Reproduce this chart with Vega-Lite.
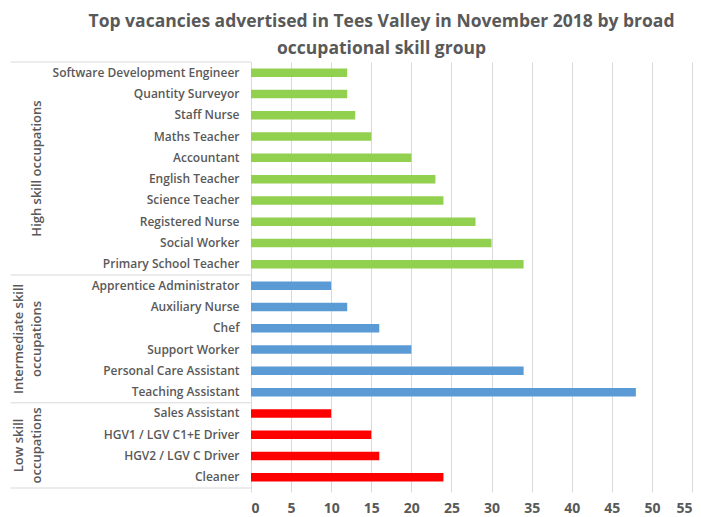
{
  "$schema": "https://vega.github.io/schema/vega-lite/v6.json",
  "autosize": "none",
  "width": 441,
  "height": 426,
  "padding": {"left": 251, "top": 62, "right": 9, "bottom": 29},
  "background": "white",
  "title": {
    "text": ["Top vacancies advertised in Tees Valley in November 2018 by broad", "occupational skill group"],
    "font": "Open Sans",
    "fontSize": 17.5,
    "fontWeight": "bold",
    "color": "#595959",
    "anchor": "middle",
    "dx": -90,
    "offset": 4,
    "lineHeight": 27
  },
  "config": {
    "view": {"stroke": null},
    "font": "Open Sans"
  },
  "datasets": {
    "jobs": [
      {"occupation": "Software Development Engineer", "vacancies": 12, "group": "High"},
      {"occupation": "Quantity Surveyor", "vacancies": 12, "group": "High"},
      {"occupation": "Staff Nurse", "vacancies": 13, "group": "High"},
      {"occupation": "Maths Teacher", "vacancies": 15, "group": "High"},
      {"occupation": "Accountant", "vacancies": 20, "group": "High"},
      {"occupation": "English Teacher", "vacancies": 23, "group": "High"},
      {"occupation": "Science Teacher", "vacancies": 24, "group": "High"},
      {"occupation": "Registered Nurse", "vacancies": 28, "group": "High"},
      {"occupation": "Social Worker", "vacancies": 30, "group": "High"},
      {"occupation": "Primary School Teacher", "vacancies": 34, "group": "High"},
      {"occupation": "Apprentice Administrator", "vacancies": 10, "group": "Intermediate"},
      {"occupation": "Auxiliary Nurse", "vacancies": 12, "group": "Intermediate"},
      {"occupation": "Chef", "vacancies": 16, "group": "Intermediate"},
      {"occupation": "Support Worker", "vacancies": 20, "group": "Intermediate"},
      {"occupation": "Personal Care Assistant", "vacancies": 34, "group": "Intermediate"},
      {"occupation": "Teaching Assistant", "vacancies": 48, "group": "Intermediate"},
      {"occupation": "Sales Assistant", "vacancies": 10, "group": "Low"},
      {"occupation": "HGV1 / LGV C1+E Driver", "vacancies": 15, "group": "Low"},
      {"occupation": "HGV2 / LGV C Driver", "vacancies": 16, "group": "Low"},
      {"occupation": "Cleaner", "vacancies": 24, "group": "Low"}
    ],
    "singleLabels": [
      {"label": ["High skill occupations"], "anchor": "Accountant"}
    ],
    "doubleLabels": [
      {"label": ["Intermediate skill", "occupations"], "anchor": "Chef"},
      {"label": ["Low skill", "occupations"], "anchor": "HGV1 / LGV C1+E Driver"}
    ],
    "bottoms": [
      {"occupation": "Primary School Teacher"},
      {"occupation": "Teaching Assistant"},
      {"occupation": "Cleaner"}
    ],
    "tops": [
      {"occupation": "Software Development Engineer"}
    ]
  },
  "layer": [
    {
      "data": {"name": "jobs"},
      "mark": {"type": "bar"},
      "encoding": {
        "y": {
          "field": "occupation",
          "type": "nominal",
          "sort": null,
          "scale": {"paddingInner": 0.6, "paddingOuter": 0.3},
          "axis": {
            "title": null,
            "ticks": false,
            "domain": true,
            "domainColor": "#d9d9d9",
            "labelFont": "Open Sans",
            "labelFontSize": 12,
            "labelFontWeight": 600,
            "labelColor": "#595959",
            "labelPadding": 12,
            "labelLimit": 300
          }
        },
        "x": {
          "field": "vacancies",
          "type": "quantitative",
          "scale": {"domain": [0, 55]},
          "axis": {
            "title": null,
            "values": [0, 5, 10, 15, 20, 25, 30, 35, 40, 45, 50, 55],
            "grid": true,
            "gridColor": "#d9d9d9",
            "domain": false,
            "ticks": true,
            "tickColor": "#d9d9d9",
            "tickSize": 4,
            "labelFont": "Open Sans",
            "labelFontSize": 14,
            "labelFontWeight": "bold",
            "labelColor": "#595959",
            "labelPadding": 9
          }
        },
        "color": {
          "field": "group",
          "type": "nominal",
          "scale": {"domain": ["High", "Intermediate", "Low"], "range": ["#92d050", "#5b9bd5", "#ff0000"]},
          "legend": null
        }
      }
    },
    {
      "data": {"name": "bottoms"},
      "mark": {"type": "rule", "color": "#d9d9d9", "strokeWidth": 1},
      "encoding": {
        "y": {"field": "occupation", "type": "nominal", "sort": null, "bandPosition": 1.75},
        "x": {"datum": -30, "type": "quantitative"},
        "x2": {"datum": 0}
      }
    },
    {
      "data": {"name": "tops"},
      "mark": {"type": "rule", "color": "#d9d9d9", "strokeWidth": 1},
      "encoding": {
        "y": {"field": "occupation", "type": "nominal", "sort": null, "bandPosition": -0.75},
        "x": {"datum": -30, "type": "quantitative"},
        "x2": {"datum": 0}
      }
    },
    {
      "data": {"name": "singleLabels"},
      "mark": {"type": "text", "angle": 270, "align": "center", "baseline": "middle", "font": "Open Sans", "fontSize": 13, "fontWeight": 600, "color": "#595959", "lineHeight": 18},
      "encoding": {
        "y": {"field": "anchor", "type": "nominal", "sort": null, "bandPosition": 1.75},
        "x": {"datum": -26.7, "type": "quantitative"},
        "text": {"field": "label"}
      }
    },
    {
      "data": {"name": "doubleLabels"},
      "mark": {"type": "text", "angle": 270, "align": "center", "baseline": "middle", "font": "Open Sans", "fontSize": 13, "fontWeight": 600, "color": "#595959", "lineHeight": 18},
      "encoding": {
        "y": {"field": "anchor", "type": "nominal", "sort": null, "bandPosition": 1.75},
        "x": {"datum": -28.9, "type": "quantitative"},
        "text": {"field": "label"}
      }
    }
  ]
}
